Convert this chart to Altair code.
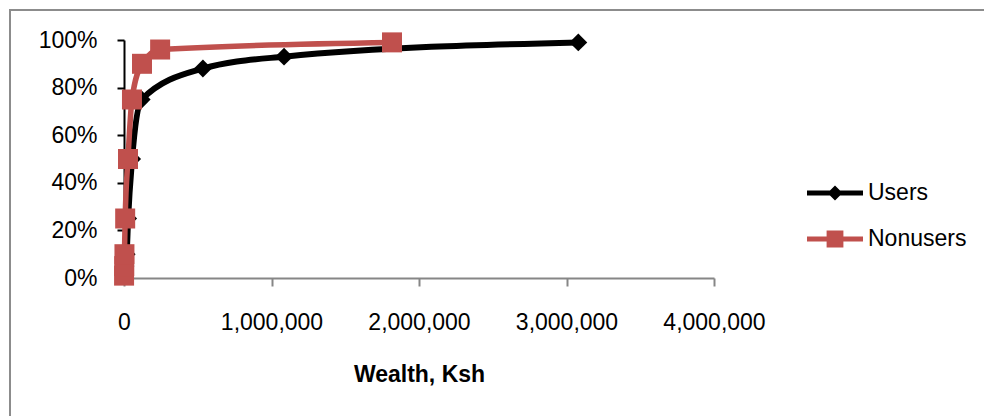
import altair as alt
import pandas as pd

# ---- data ----
users_wealth = [2000, 10000, 18000, 28000, 55000, 120000, 535000, 1085000, 3080000]
users_share = [0.01, 0.05, 0.10, 0.25, 0.50, 0.75, 0.88, 0.93, 0.99]
nonusers_wealth = [500, 1500, 3000, 8000, 27000, 54000, 122000, 245000, 1817000]
nonusers_share = [0.01, 0.05, 0.10, 0.25, 0.50, 0.75, 0.90, 0.96, 0.99]
series = ["Users", "Nonusers"]
colors = ["#000000", "#C0504D"]
x_ticks = [0, 1000000, 2000000, 3000000, 4000000]
y_ticks = [0, 0.2, 0.4, 0.6, 0.8, 1.0]

df = pd.DataFrame(
    {
        "wealth": users_wealth + nonusers_wealth,
        "share": users_share + nonusers_share,
        "group": ["Users"] * len(users_wealth) + ["Nonusers"] * len(nonusers_wealth),
    }
)

FONT = "Liberation Sans"

x_enc = alt.X(
    "wealth:Q",
    scale=alt.Scale(domain=[0, 4000000], nice=False),
    axis=alt.Axis(
        values=x_ticks,
        format=",d",
        title="Wealth, Ksh",
        grid=False,
        domainColor="#868686",
        domainWidth=2,
        tickColor="#868686",
        tickWidth=2,
        tickSize=8,
        labelPadding=25,
        labelFontSize=23,
        labelFont=FONT,
        labelColor="#000000",
        titleFont=FONT,
        titleFontSize=23,
        titleFontWeight="bold",
        titleColor="#000000",
        titlePadding=29,
        labelFlush=False,
        labelOverlap=False,
    ),
)
y_enc = alt.Y(
    "share:Q",
    scale=alt.Scale(domain=[0, 1], nice=False),
    axis=alt.Axis(
        values=y_ticks,
        format=".0%",
        title=None,
        grid=False,
        domainColor="#000000",
        domainWidth=2,
        tickColor="#000000",
        tickWidth=2,
        tickSize=7,
        labelPadding=20,
        labelFontSize=23,
        labelFont=FONT,
        labelColor="#000000",
        labelFlush=False,
        labelOverlap=False,
    ),
)

base = alt.Chart(df)

users_path = "M-1,-0.09L1,-0.09L1,0.09L-1,0.09Z M0,-0.27L0.27,0L0,0.27L-0.27,0Z"
non_path = "M-1,-0.09L1,-0.09L1,0.09L-1,0.09Z M-0.3,-0.3L0.3,-0.3L0.3,0.3L-0.3,0.3Z"

legend = alt.Legend(
    title=None,
    orient="none",
    legendX=683,
    legendY=125,
    padding=0,
    labelFont=FONT,
    labelFontSize=23,
    labelColor="#000000",
    symbolSize=3136,
    symbolStrokeWidth=0,
    symbolOpacity=1,
    labelOffset=5,
    rowPadding=6,
    symbolType=alt.ExprRef(
        expr=f"datum.value === 'Users' ? '{users_path}' : '{non_path}'"
    ),
)

color_enc = alt.Color(
    "group:N",
    scale=alt.Scale(domain=series, range=colors),
    legend=legend,
)

users_line = (
    base.transform_filter(alt.datum.group == "Users")
    .mark_line(color="#000000", strokeWidth=6, interpolate="monotone")
    .encode(x=x_enc, y=y_enc)
)
users_pts = (
    base.transform_filter(alt.datum.group == "Users")
    .mark_point(filled=True, opacity=1, size=320, shape="diamond")
    .encode(x=x_enc, y=y_enc, color=color_enc)
)
non_line = (
    base.transform_filter(alt.datum.group == "Nonusers")
    .mark_line(color="#C0504D", strokeWidth=5.5, interpolate="monotone")
    .encode(x=x_enc, y=y_enc)
)
non_pts = (
    base.transform_filter(alt.datum.group == "Nonusers")
    .mark_point(filled=True, opacity=1, size=400, shape="square")
    .encode(x=x_enc, y=y_enc, color=color_enc)
)

frame = (
    alt.Chart(pd.DataFrame({"k": [0]}))
    .mark_rect(fill=None, stroke="#8c8c8c", strokeWidth=2, clip=False)
    .encode(
        x=alt.value(-114),
        x2=alt.value(1000),
        y=alt.value(-30),
        y2=alt.value(500),
    )
)

chart = (
    alt.layer(frame, users_line, users_pts, non_line, non_pts)
    .properties(
        width=590,
        height=238,
        padding={"left": 124, "top": 40, "right": 270, "bottom": 138},
        autosize=alt.AutoSizeParams(type="none"),
        background="#ffffff",
    )
    .configure_view(stroke=None)
)

chart.save("out.html", embed_options={"renderer": "svg", "actions": False})
